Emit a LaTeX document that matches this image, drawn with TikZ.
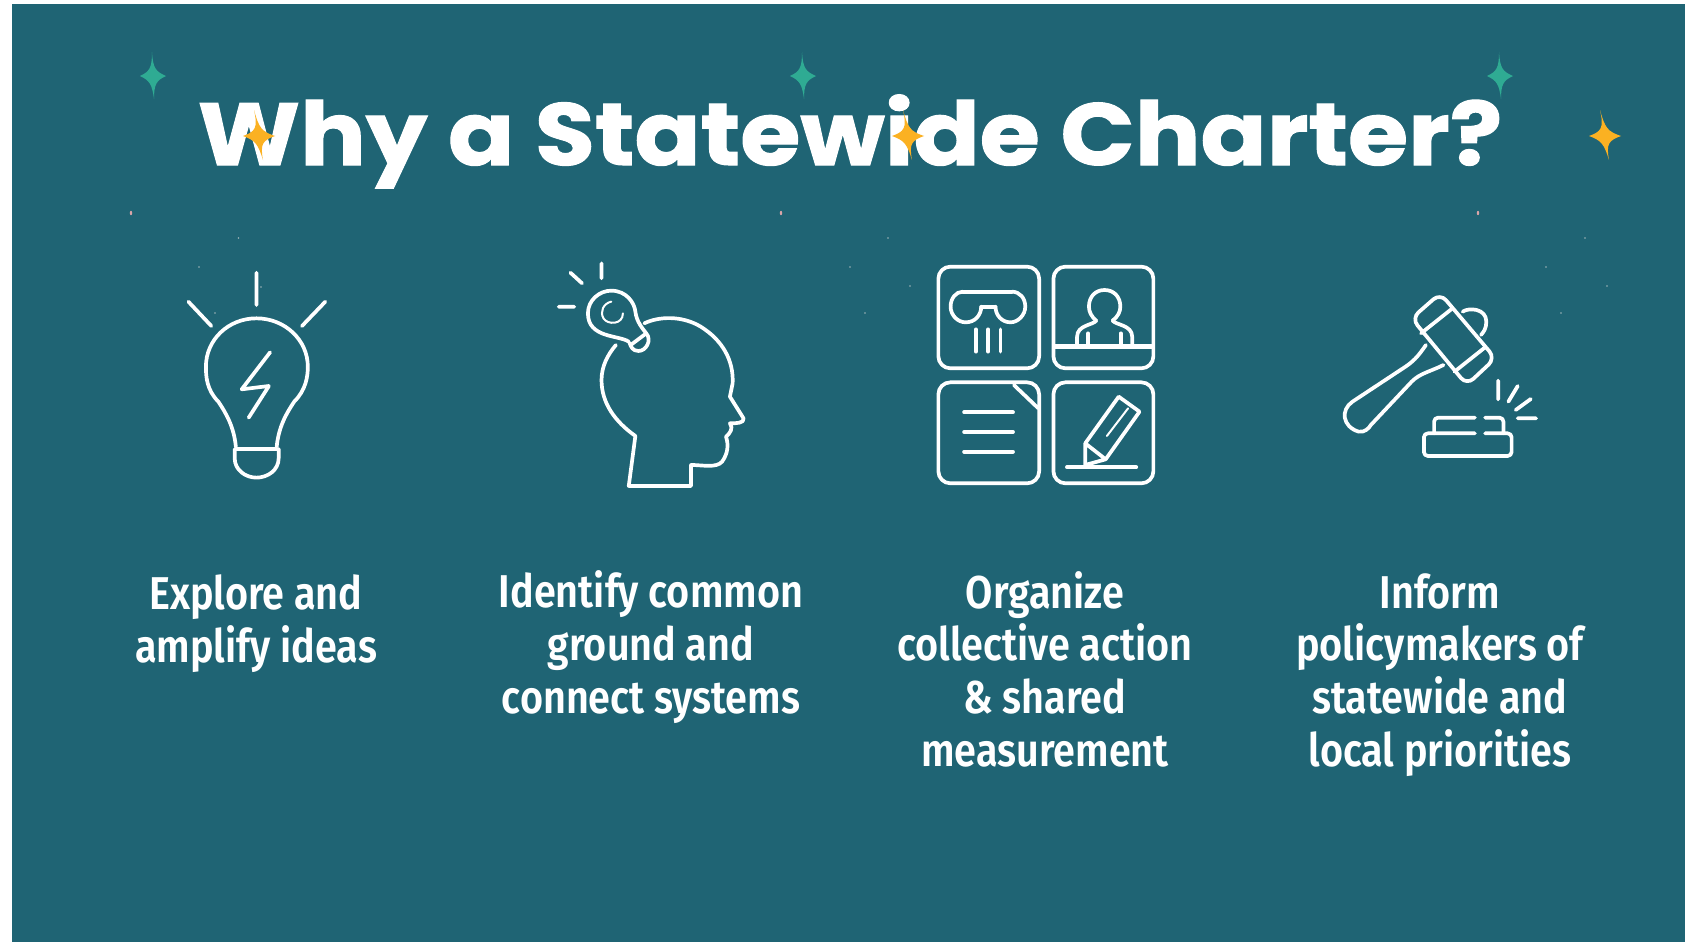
\documentclass[tikz,border=0pt]{standalone}
\usepackage{fontspec}
\setmainfont{Fira Sans}
\newfontfamily\titlefont[FakeBold=1.2,FakeStretch=1.108]{Poppins Bold}
\newfontfamily\bodyfont[FakeStretch=0.86]{Fira Sans SemiBold}
\definecolor{teal}{HTML}{1F6474}
\definecolor{sgreen}{HTML}{2FAB93}
\definecolor{syellow}{HTML}{FBB122}
\definecolor{dotpink}{HTML}{D9A5A8}
\definecolor{dotgrey}{HTML}{9DB4B8}
\newcommand{\spark}[8]{\fill[#8,shift={(#1,#2)}] (#3,-#4) .. controls (0,-8) and (2.5,-4.5) .. (#7,0) .. controls (3.5,4.5) and (1,8) .. (#5,#6) .. controls (-1,8) and (-3.5,4.5) .. (-#7,0) .. controls (-3.5,-4.5) and (-1,-8) .. cycle;}
\tikzset{
  icon/.style={draw=white,line width=3.7pt,line cap=round,line join=round},
  thinline/.style={draw=white,line width=2pt,line cap=round},
  bodytext/.style={text=white,align=center,font=\bodyfont\fontsize{46}{52.6}\selectfont,anchor=base},
  zoomA/.style={shift={(160,250)},x=0.389pt,y=-0.3333pt},
  zoomB/.style={shift={(920,250)},x=0.408pt,y=-0.3333pt},
  tile/.style={icon,rounded corners=12pt}
}
\begin{document}
\begin{tikzpicture}[x=1pt,y=-1pt]
\useasboundingbox (0,0) rectangle (1696,942);
\fill[white] (0,0) rectangle (1696,942);
\fill[teal] (12,4) rectangle (1685,942);
% small specks
\foreach \u in {131,781,1478}{\fill[dotpink] (\u,213) ellipse (1.2 and 2.2);}
\foreach \u/\v in {238.5/238,888/238,1585/238,199/267,850/267,1546/267,261/287,910/286,1607/286,215/313,865/313,1561/313}{
  \fill[dotgrey] (\u,\v) circle (0.9);
}
% title
\node[text=white,anchor=base,inner sep=0,font=\titlefont\fontsize{88}{90}\selectfont] (title) at (850,165) {Why a Statewide Charter?};
% sparkles
\spark{153}{76}{-1}{24}{1}{23}{13}{sgreen}
\spark{803}{76}{-1}{24}{1}{23}{13}{sgreen}
\spark{1500}{76}{-1}{24}{1}{23}{13}{sgreen}
\spark{259}{136}{-5}{26}{4}{24}{16}{syellow}
\spark{908}{136}{-5}{26}{4}{24}{16}{syellow}
\spark{1605}{136}{-5}{26}{4}{24}{16}{syellow}
% bulb
\begin{scope}[zoomA]
\draw[icon] (248,68)--(248,165) (73,155)--(132,228) (425,155)--(365,228);
\draw[icon] (195,590) .. controls (190,530) and (170,490) .. (150,455) .. controls (120,420) and (118,380) .. (118,350) .. controls (118,270) and (175,205) .. (248,205) .. controls (321,205) and (380,270) .. (380,350) .. controls (380,380) and (375,420) .. (345,455) .. controls (325,490) and (305,530) .. (300,590);
\draw[icon] (195,597)--(300,597);
\draw[icon] (192,597) -- (192,625) .. controls (192,660) and (220,683) .. (248,683) .. controls (277,683) and (305,660) .. (305,625) -- (305,597);
\draw[icon] (283,307)--(210,418)--(280,408)--(228,503);
% head
\draw[icon] (1245,220) .. controls (1280,200) and (1340,195) .. (1390,230) .. controls (1445,270) and (1475,330) .. (1472,400) -- (1465,440) -- (1500,505) .. controls (1503,520) and (1480,520) .. (1465,520) .. controls (1475,535) and (1465,550) .. (1455,560) .. controls (1462,585) and (1460,610) .. (1445,635) .. controls (1430,655) and (1395,645) .. (1365,645) -- (1365,708) -- (1205,708) -- (1222,558) .. controls (1170,515) and (1135,460) .. (1135,390) .. controls (1135,350) and (1150,315) .. (1172,285);
\draw[icon] (1205,275) .. controls (1180,255) and (1100,265) .. (1100,190) .. controls (1100,150) and (1130,122) .. (1160,122) .. controls (1200,122) and (1220,160) .. (1222,185) .. controls (1225,215) and (1240,235) .. (1250,250);
\draw[icon] (1250,250)--(1210,285);
\draw[icon] (1250,250) .. controls (1265,270) and (1250,303) .. (1230,303) .. controls (1215,303) and (1210,290) .. (1207,278);
\draw[thinline] (1160,155) .. controls (1140,160) and (1130,185) .. (1140,205) .. controls (1150,225) and (1190,225) .. (1190,190);
\draw[icon] (1135,40)--(1135,85) (1055,68)--(1085,100) (1025,170)--(1065,170);
\end{scope}
% tiles and gavel
\begin{scope}[zoomB]
\draw[tile] (45,50) rectangle (292,355);
\draw[tile] (327,50) rectangle (572,355);
\draw[tile] (45,397) rectangle (292,700);
\draw[tile] (327,397) rectangle (572,700);
% column
\draw[icon] (105,125)--(225,125);
\draw[icon] (225,125) .. controls (245,125) and (258,145) .. (258,170) .. controls (258,195) and (240,217) .. (222,217) .. controls (200,217) and (185,195) .. (185,170);
\draw[icon] (185,170)--(150,170);
\draw[icon] (150,170) .. controls (150,195) and (135,217) .. (112,217) .. controls (92,217) and (75,195) .. (75,170) .. controls (75,145) and (88,125) .. (105,125);
\draw[icon] (137,238)--(137,305) (167,238)--(167,305) (197,238)--(197,305);
% person
\draw[icon] (432,212) .. controls (420,200) and (414,185) .. (414,170) .. controls (414,140) and (430,120) .. (452,120) .. controls (475,120) and (491,140) .. (491,170) .. controls (491,185) and (485,200) .. (472,212);
\draw[icon] (432,212) .. controls (425,225) and (385,225) .. (385,260) -- (385,285);
\draw[icon] (472,212) .. controls (480,225) and (520,225) .. (520,260) -- (520,285);
\draw[icon] (412,250)--(412,285) (492,250)--(492,285);
\draw[icon,line width=4.5pt,line cap=butt] (329,290)--(570,290);
% document
\draw[icon] (230,405)--(290,475);
\draw[icon] (108,487)--(228,487) (108,546)--(228,546) (108,605)--(228,605);
% pencil
\draw[icon] (405,580)--(487,440)--(538,485)--(455,628);
\draw[icon] (405,580)--(455,628)--(405,645)--cycle;
\draw[thinline] (510,475)--(458,558);
\draw[icon] (360,652)--(530,652);
% gavel
\draw[icon,rounded corners=9pt] (1275,130)--(1205,205)--(1340,405)--(1410,325)--cycle;
\draw[icon] (1305,175)--(1228,250) (1385,292)--(1310,365);
\draw[icon] (1330,185) .. controls (1345,172) and (1388,175) .. (1388,215) .. controls (1388,235) and (1382,245) .. (1375,255);
\draw[icon] (1240,285) .. controls (1220,320) and (1210,335) .. (1180,358) -- (1060,455) .. controls (1030,480) and (1035,530) .. (1075,545) .. controls (1090,548) and (1100,535) .. (1105,525) -- (1205,395) .. controls (1225,370) and (1250,365) .. (1283,345);
\draw[icon] (1417,392)--(1417,448) (1465,408)--(1442,455) (1497,447)--(1460,480) (1465,505)--(1510,505);
\draw[icon,rounded corners=4pt] (1260,550)--(1260,503)--(1360,503);
\draw[icon,rounded corners=4pt] (1385,503)--(1430,503)--(1430,550);
\draw[icon,rounded corners=4pt] (1235,590)--(1235,550)--(1360,550);
\draw[icon,rounded corners=4pt] (1385,550)--(1450,550)--(1450,618)--(1235,618)--(1235,590);
\end{scope}
% labels
\node[bodytext] (l1) at (256,662) {Explore and\\amplify ideas};
\node[bodytext] (l2) at (651,713) {Identify common\\ground and\\connect systems};
\node[bodytext] (l3) at (1045,766) {Organize\\collective action\\\& shared\\measurement};
\node[bodytext] (l4) at (1440,766) {Inform\\policymakers of\\statewide and\\local priorities};
\end{tikzpicture}
\end{document}
